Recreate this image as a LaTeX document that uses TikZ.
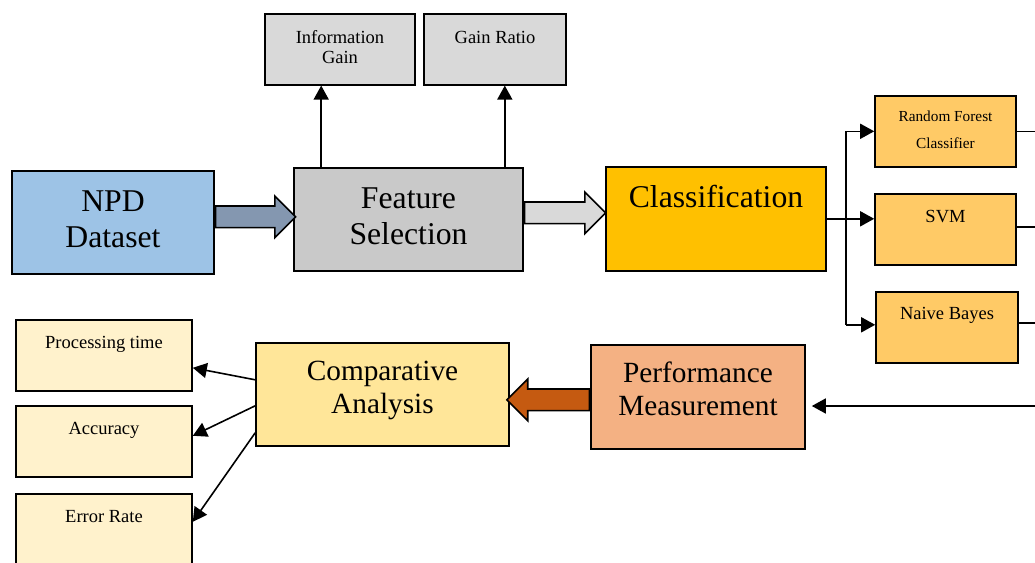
\documentclass[tikz,border=0pt]{standalone}
\usepackage{fontspec}
\setmainfont{Liberation Serif}
\usepackage{tikz}
\usetikzlibrary{shapes.arrows,arrows.meta,calc}
\definecolor{flowblue}{HTML}{9DC3E6}
\definecolor{flowslate}{HTML}{8497B0}
\definecolor{flowgray}{HTML}{C9C9C9}
\definecolor{flowlight}{HTML}{D9D9D9}
\definecolor{flowgold}{HTML}{FFC000}
\definecolor{flowamber}{HTML}{FFCA66}
\definecolor{flowsand}{HTML}{FFE699}
\definecolor{flowcream}{HTML}{FFF2CC}
\definecolor{flowpeach}{HTML}{F4B183}
\definecolor{flowrust}{HTML}{C55A11}

\tikzset{
  box/.style={draw, line width=1.6pt, inner sep=0pt, align=center, anchor=north},
  bigbox/.style={box, font=\fontsize{31.7}{36.5}\selectfont},
  midbox/.style={box, font=\fontsize{29.3}{33.3}\selectfont},
  smallbox/.style={box, font=\fontsize{18.5}{20}\selectfont},
  link/.style={line width=1.6pt},
  arr/.style={link, -{Triangle[length=14pt,width=15pt]}},
  fatarrow/.style={single arrow, draw, line width=1.6pt, anchor=tail,
    inner xsep=0pt, inner ysep=10pt, single arrow head extend=10pt},
}

\begin{document}
\begin{tikzpicture}[x=1pt,y=-1pt]
\useasboundingbox (0,0) rectangle (1035,562);

% dataset and feature selection
\node[bigbox, fill=flowblue, minimum width=202pt, text height=77pt, text depth=26pt] (npd) at (113,170) {NPD\\Dataset};
\node[bigbox, fill=flowgray, minimum width=229pt, text height=77pt, text depth=26pt] (fs) at (408.5,167) {Feature\\Selection};
\node[smallbox, fill=flowlight, minimum width=150pt, text height=50pt, text depth=21pt] (ig) at (340,13) {Information\\Gain};
\node[smallbox, fill=flowlight, minimum width=142pt, text height=30pt, text depth=41pt] (gr) at (495,13) {Gain Ratio};

% classifiers
\node[bigbox, fill=flowgold, minimum width=220pt, text height=41pt, text depth=63pt] (cls) at (716,166) {Classification};
\node[smallbox, font=\fontsize{15.3}{27}\selectfont, fill=flowamber, minimum width=141pt, text height=53pt, text depth=18pt] (rf) at (945.5,95) {Random Forest\\Classifier};
\node[smallbox, fill=flowamber, minimum width=141pt, text height=29pt, text depth=42pt] (svm) at (945.5,193) {SVM};
\node[smallbox, fill=flowamber, minimum width=142pt, text height=28pt, text depth=43pt] (nb) at (947,291) {Naive Bayes};

% evaluation
\node[midbox, fill=flowpeach, minimum width=214pt, text height=71pt, text depth=33pt] (perf) at (698,344) {Performance\\Measurement};
\node[midbox, fill=flowsand, minimum width=253pt, text height=70.7pt, text depth=32.3pt] (comp) at (382.5,342) {Comparative\\Analysis};
\node[smallbox, fill=flowcream, minimum width=176pt, text height=29pt, text depth=42pt] (ptime) at (104,319) {Processing time};
\node[smallbox, fill=flowcream, minimum width=176pt, text height=29pt, text depth=42pt] (acc) at (104,405) {Accuracy};
\node[smallbox, fill=flowcream, minimum width=176pt, text height=29pt, text depth=42pt] (err) at (104,493) {Error Rate};

% block arrows
\node[fatarrow, fill=flowslate, minimum height=80pt] (a1) at ([yshift=5.5pt]npd.east) {};
\node[fatarrow, fill=flowlight, minimum height=81pt] (a2) at ([yshift=6.5pt]fs.east) {};
\node[fatarrow, fill=flowrust, minimum height=82.5pt, shape border rotate=180] (a3) at ([yshift=-3pt]perf.west) {};

% feature measures
\draw[arr] ([xshift=28pt]fs.north west) -- ([xshift=28pt]fs.north west |- ig.south);
\draw[arr] ([xshift=-19pt]fs.north east) -- ([xshift=-19pt]fs.north east |- gr.south);

% fan out to the classifiers
\coordinate (fork) at ([xshift=19pt]cls.east);
\draw[link] (fork |- rf.west) -- ([yshift=2.5pt]fork |- nb.west);
\draw[arr] (cls.east) -- (fork -| svm.west);
\draw[arr] (fork |- rf.west) -- (rf.west);
\draw[arr] ([yshift=2.5pt]fork |- nb.west) -- ([yshift=2.5pt]nb.west);

% results back to performance measurement
\coordinate (edge) at (1035,406);
\draw[link] (rf.east) -- (rf.east -| edge);
\draw[link] ([yshift=2.5pt]svm.east) -- ([yshift=2.5pt]svm.east -| edge);
\draw[link] ([yshift=4.5pt]nb.east) -- ([yshift=4.5pt]nb.east -| edge);
\draw[arr, shorten >=6pt] (edge) -- (edge -| perf.east);

% comparison outputs
\draw[arr] ([yshift=14.5pt]comp.west) -- ([yshift=-12.5pt]ptime.east);
\draw[arr] ([yshift=-11.5pt]comp.west) -- ([yshift=5.5pt]acc.east);
\draw[arr] ([yshift=-38.5pt]comp.west) -- ([yshift=7.5pt]err.east);
\end{tikzpicture}
\end{document}
